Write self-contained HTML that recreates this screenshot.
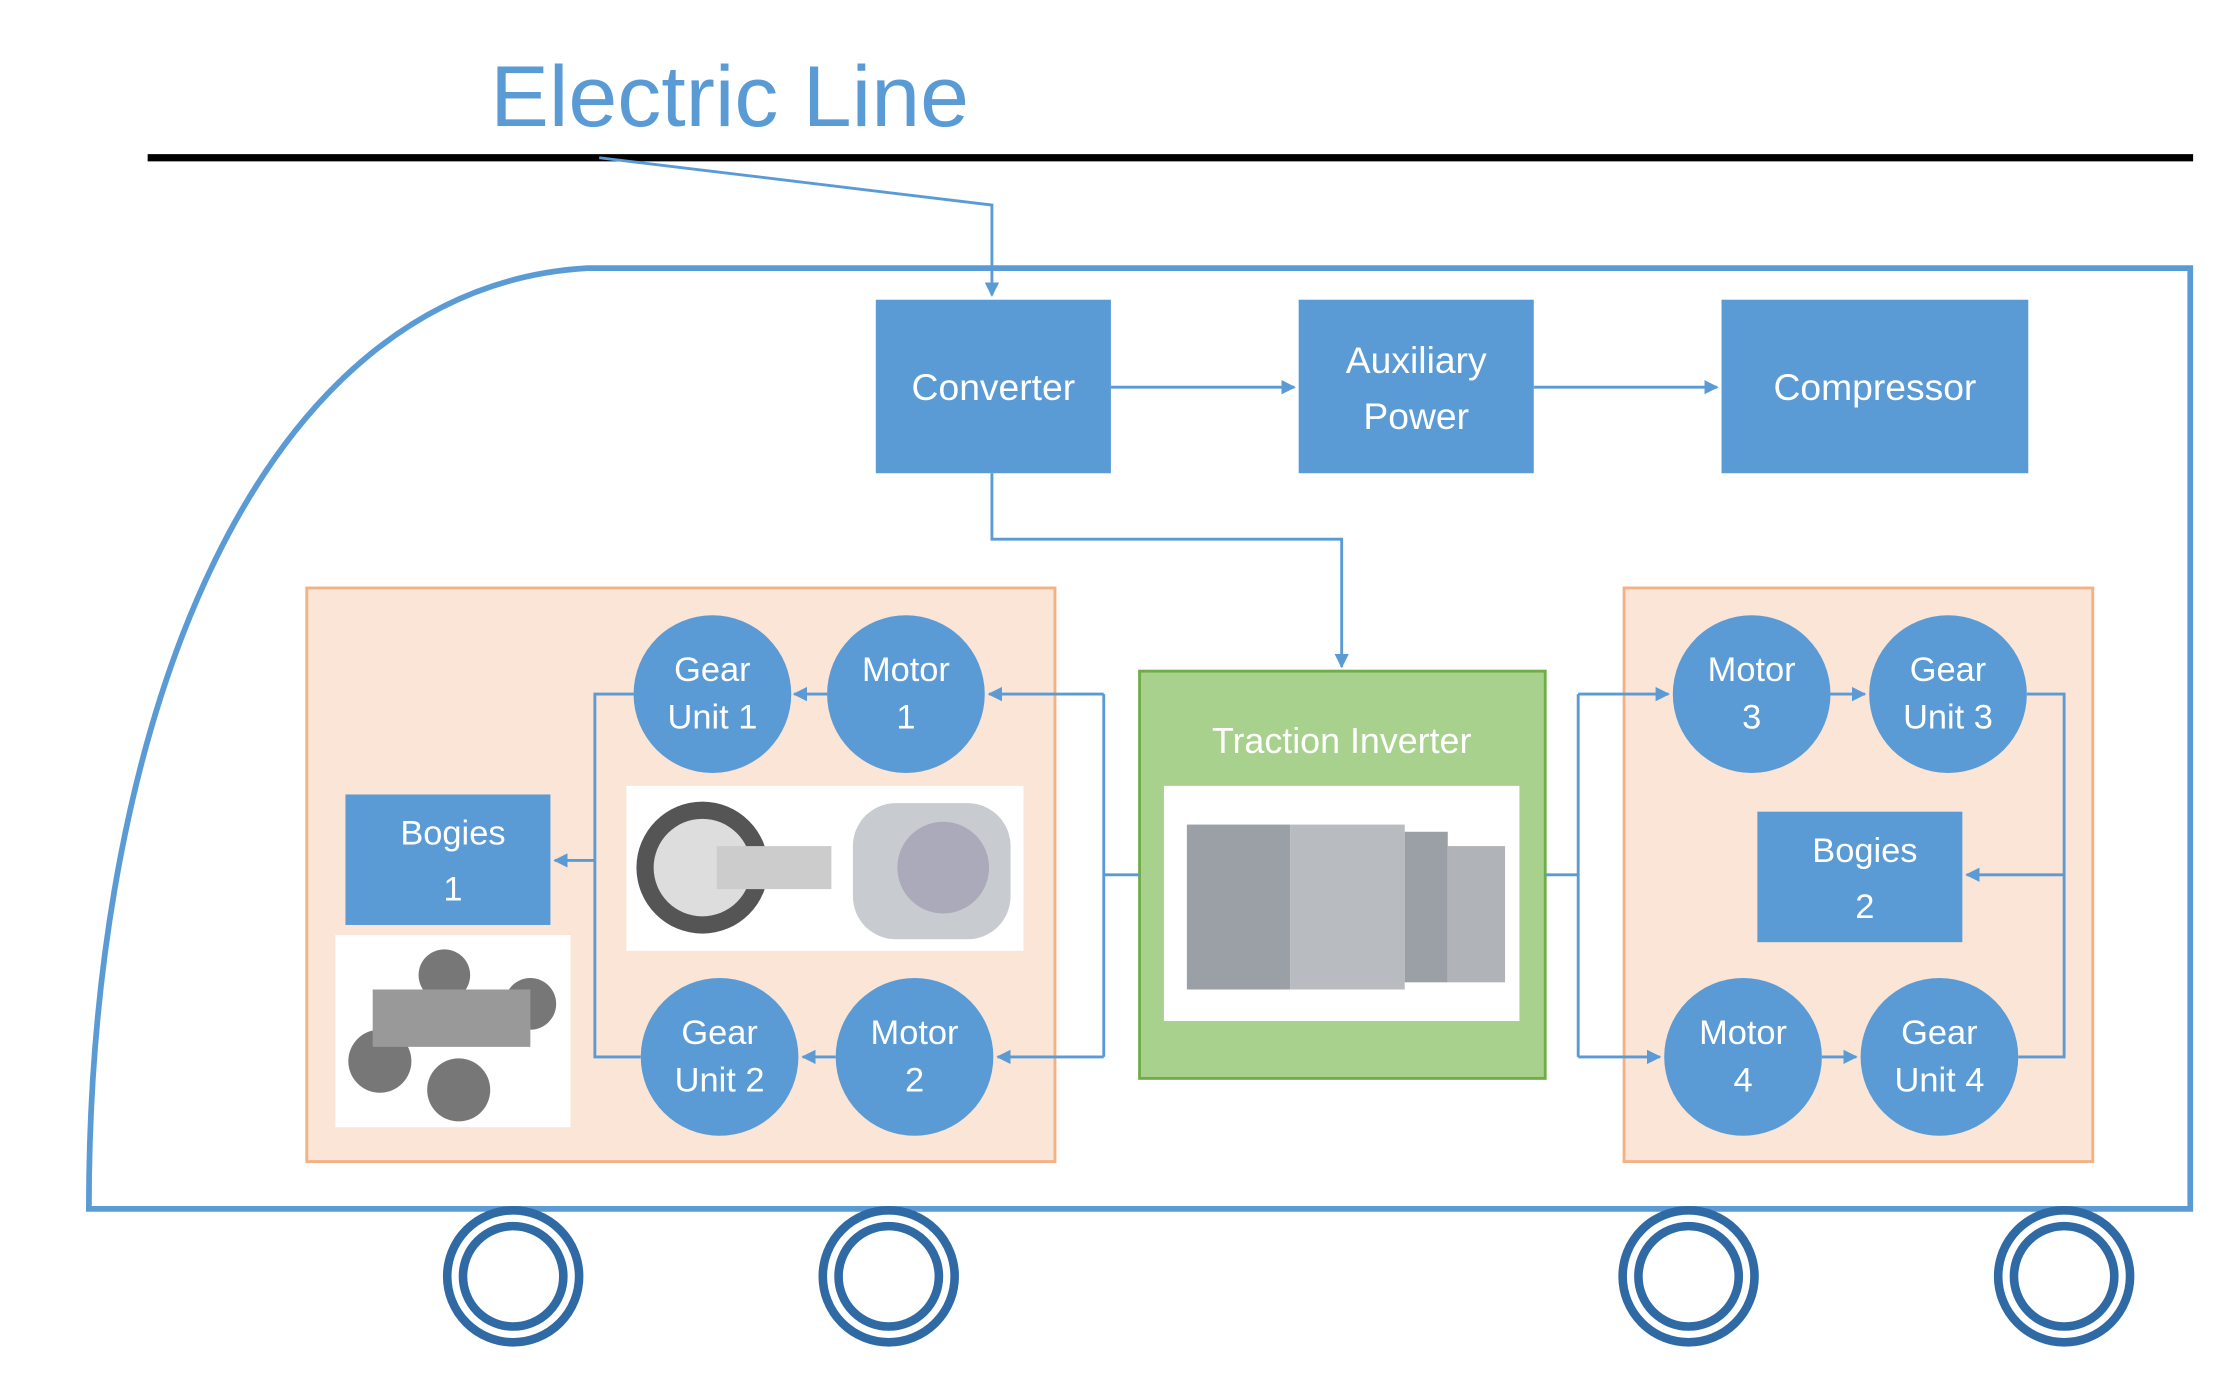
<!DOCTYPE html>
<html><head><meta charset="utf-8"><style>
html,body{margin:0;padding:0;background:#fff;}
svg{display:block;}
text{font-family:"Liberation Sans",sans-serif;}
</style></head><body>
<svg width="2239" height="1381" viewBox="0 0 1562 963" preserveAspectRatio="none" xmlns="http://www.w3.org/2000/svg">
<defs>
<marker id="a" viewBox="0 0 10 10" refX="9" refY="5" markerWidth="5" markerHeight="5" orient="auto"><path d="M0,0L10,5L0,10z" fill="#5b9bd5"/></marker>
</defs>
<rect width="1562" height="963" fill="#fff"/>
<text x="342" y="88" font-size="60" fill="#5b9bd5" textLength="334" lengthAdjust="spacingAndGlyphs">Electric Line</text>
<line x1="103" y1="110" x2="1530" y2="110" stroke="#000" stroke-width="5"/>
<polyline points="418,110 692,143 692,206" fill="none" stroke="#5b9bd5" stroke-width="2" marker-end="url(#a)"/>
<path d="M410,187 L1528,187 L1528,843 L62,843 C62,500 180,200 410,187Z" fill="none" stroke="#5b9bd5" stroke-width="4"/>
<g fill="#5b9bd5">
<rect x="611" y="209" width="164" height="121"/>
<rect x="906" y="209" width="164" height="121"/>
<rect x="1201" y="209" width="214" height="121"/>
</g>
<g fill="#fff" font-size="26" text-anchor="middle">
<text x="693" y="279">Converter</text>
<text x="988" y="260">Auxiliary</text><text x="988" y="299">Power</text>
<text x="1308" y="279">Compressor</text>
</g>
<g fill="none" stroke="#5b9bd5" stroke-width="2">
<line x1="775" y1="270" x2="903" y2="270" marker-end="url(#a)"/>
<line x1="1070" y1="270" x2="1198" y2="270" marker-end="url(#a)"/>
<polyline points="692,330 692,376 936,376 936,465" marker-end="url(#a)"/>
</g>
<rect x="214" y="410" width="522" height="400" fill="#fbe5d6" stroke="#f4b183" stroke-width="2"/>
<rect x="1133" y="410" width="327" height="400" fill="#fbe5d6" stroke="#f4b183" stroke-width="2"/>
<rect x="795" y="468" width="283" height="284" fill="#a9d18e" stroke="#70ad47" stroke-width="2"/>
<text x="936" y="525" fill="#fff" font-size="25" text-anchor="middle">Traction Inverter</text>
<rect x="812" y="548" width="248" height="164" fill="#fff"/>
<g fill="#9aa0a6"><rect x="828" y="575" width="72" height="115"/><rect x="900" y="575" width="80" height="115" fill="#b8bcc0"/><rect x="980" y="580" width="30" height="105"/><rect x="1010" y="590" width="40" height="95" fill="#b0b4b8"/></g>
<rect x="437" y="548" width="277" height="115" fill="#fff"/>
<circle cx="490" cy="605" r="46" fill="#555"/><circle cx="490" cy="605" r="34" fill="#ddd"/><rect x="500" y="590" width="80" height="30" fill="#ccc"/>
<rect x="595" y="560" width="110" height="95" rx="30" fill="#c8ccd0"/><circle cx="658" cy="605" r="32" fill="#aab"/>
<rect x="234" y="652" width="164" height="134" fill="#fff"/>
<g fill="#777"><circle cx="265" cy="740" r="22"/><circle cx="320" cy="760" r="22"/><circle cx="310" cy="680" r="18"/><circle cx="370" cy="700" r="18"/><rect x="260" y="690" width="110" height="40" fill="#999"/></g>
<g fill="#5b9bd5">
<rect x="241" y="554" width="143" height="91"/>
<rect x="1226" y="566" width="143" height="91"/>
<circle cx="497" cy="484" r="55"/><circle cx="632" cy="484" r="55"/>
<circle cx="502" cy="737" r="55"/><circle cx="638" cy="737" r="55"/>
<circle cx="1222" cy="484" r="55"/><circle cx="1359" cy="484" r="55"/>
<circle cx="1216" cy="737" r="55"/><circle cx="1353" cy="737" r="55"/>
</g>
<g fill="#fff" font-size="24" text-anchor="middle">
<text x="316" y="589">Bogies</text><text x="316" y="628">1</text>
<text x="1301" y="601">Bogies</text><text x="1301" y="640">2</text>
<text x="497" y="475">Gear</text><text x="497" y="508">Unit 1</text>
<text x="632" y="475">Motor</text><text x="632" y="508">1</text>
<text x="502" y="728">Gear</text><text x="502" y="761">Unit 2</text>
<text x="638" y="728">Motor</text><text x="638" y="761">2</text>
<text x="1222" y="475">Motor</text><text x="1222" y="508">3</text>
<text x="1359" y="475">Gear</text><text x="1359" y="508">Unit 3</text>
<text x="1216" y="728">Motor</text><text x="1216" y="761">4</text>
<text x="1353" y="728">Gear</text><text x="1353" y="761">Unit 4</text>
</g>
<g fill="none" stroke="#5b9bd5" stroke-width="2">
<polyline points="795,610 770,610"/>
<polyline points="770,484 770,737"/>
<line x1="770" y1="484" x2="690" y2="484" marker-end="url(#a)"/>
<line x1="770" y1="737" x2="696" y2="737" marker-end="url(#a)"/>
<line x1="577" y1="484" x2="554" y2="484" marker-end="url(#a)"/>
<line x1="583" y1="737" x2="560" y2="737" marker-end="url(#a)"/>
<polyline points="442,484 415,484 415,737 447,737"/>
<line x1="415" y1="600" x2="387" y2="600" marker-end="url(#a)"/>
<polyline points="1078,610 1101,610"/>
<polyline points="1101,484 1101,737"/>
<line x1="1101" y1="484" x2="1164" y2="484" marker-end="url(#a)"/>
<line x1="1101" y1="737" x2="1158" y2="737" marker-end="url(#a)"/>
<line x1="1277" y1="484" x2="1301" y2="484" marker-end="url(#a)"/>
<line x1="1271" y1="737" x2="1295" y2="737" marker-end="url(#a)"/>
<polyline points="1414,484 1440,484 1440,737 1408,737"/>
<line x1="1440" y1="610" x2="1372" y2="610" marker-end="url(#a)"/>
</g>
<g fill="none" stroke="#2f6aa5" stroke-width="6">
<circle cx="358" cy="890" r="46"/><circle cx="358" cy="890" r="35"/>
<circle cx="620" cy="890" r="46"/><circle cx="620" cy="890" r="35"/>
<circle cx="1178" cy="890" r="46"/><circle cx="1178" cy="890" r="35"/>
<circle cx="1440" cy="890" r="46"/><circle cx="1440" cy="890" r="35"/>
</g>
</svg>
</body></html>
